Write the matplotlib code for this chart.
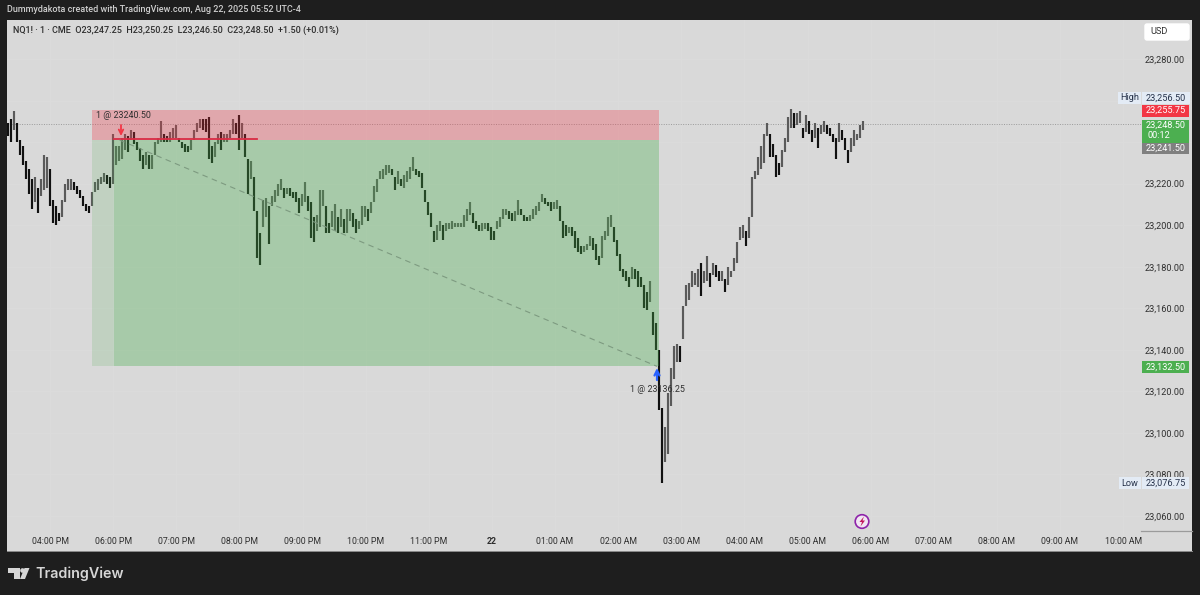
import numpy as np
import matplotlib
matplotlib.use("Agg")
import matplotlib.pyplot as plt
from matplotlib.patches import Rectangle, Circle, Polygon, FancyBboxPatch

plt.rcParams['font.family'] = ['Roboto', 'DejaVu Sans']

# high / low per bar (merged to about 3 minute bars)
highs = [
    # afternoon up to the 6pm open
    23249, 23251, 23255, 23249, 23241, 23238, 23231, 23227, 23222, 23223, 23218, 23222,
    23234, 23233, 23227, 23212, 23209, 23206, 23212, 23220, 23222, 23222, 23221, 23219,
    23217, 23214, 23210, 23209, 23216, 23221, 23222, 23223, 23225, 23224, 23223, 23244,
    # 6pm - 8:30pm
    23238, 23238, 23242, 23244, 23243, 23246, 23245, 23240, 23237, 23234, 23235, 23234, 23234,
    23240, 23242, 23250, 23244, 23243, 23245, 23247, 23248, 23242, 23240, 23239, 23238, 23241,
    23246, 23249, 23251, 23251, 23251, 23252, 23238, 23240, 23244, 23245, 23244, 23244, 23246,
    23251, 23249, 23253, 23249, 23244, 23232, 23231, 23223, 23207, 23196, 23212, 23213, 23209,
    # 8:30pm - 11:30pm
    23214, 23217, 23220, 23222, 23218, 23218, 23218, 23216, 23216, 23213, 23215, 23221, 23214,
    23211, 23204, 23205, 23217, 23217, 23209, 23201, 23207, 23210, 23204, 23208, 23203, 23208,
    23208, 23206, 23203, 23202, 23209, 23209, 23208, 23211, 23219, 23222, 23226, 23227, 23229,
    23229, 23227, 23223, 23226, 23222, 23224, 23226, 23228, 23233, 23227, 23226, 23225, 23217,
    23211, 23206,
    # 11:30pm - 1am
    23197, 23200, 23202, 23200, 23201, 23201, 23202, 23201, 23201, 23201, 23205, 23208, 23211,
    23206, 23202, 23200, 23201, 23201, 23201, 23199, 23197, 23202, 23204, 23208, 23208, 23207,
    23206, 23207, 23212, 23208, 23205, 23204, 23205,
    # 1am - 2:40am
    23208, 23209, 23211, 23215, 23213, 23211, 23211, 23211, 23212, 23209, 23202, 23200, 23199,
    23199, 23197, 23194, 23190, 23190, 23191, 23195, 23194, 23191, 23185, 23195, 23197, 23204,
    23205, 23199, 23193, 23186, 23179, 23178, 23175, 23180, 23179, 23178, 23175, 23171, 23168,
    23173, 23158, 23153, 23140,
    # flush and recovery
    23112, 23103, 23119, 23131, 23142, 23143, 23142, 23161, 23171, 23172, 23178, 23177, 23179,
    23182, 23178, 23185, 23177, 23182, 23181, 23178, 23178, 23174, 23180, 23178, 23184, 23192,
    23199, 23200, 23197, 23204, 23223, 23226, 23233, 23238, 23244, 23249, 23244, 23239, 23234,
    23230, 23236, 23242, 23252, 23256, 23254, 23254, 23255, 23247, 23253, 23250, 23246, 23249,
    23247, 23248, 23250, 23248, 23247, 23244, 23242, 23249, 23246, 23242, 23236, 23242, 23246,
    23244, 23248, 23250,
]
lows = [
    23243, 23240, 23246, 23240, 23234, 23229, 23222, 23215, 23208, 23211, 23206, 23214,
    23217, 23218, 23209, 23201, 23200, 23202, 23204, 23211, 23217, 23217, 23217, 23215,
    23213, 23209, 23207, 23206, 23209, 23216, 23217, 23220, 23221, 23220, 23218, 23220,

    23229, 23231, 23232, 23236, 23235, 23241, 23239, 23236, 23231, 23227, 23229, 23227, 23227,
    23234, 23239, 23240, 23240, 23240, 23240, 23242, 23242, 23240, 23237, 23235, 23235, 23236,
    23241, 23245, 23247, 23246, 23245, 23232, 23230, 23233, 23239, 23236, 23240, 23240, 23242,
    23244, 23244, 23236, 23242, 23233, 23215, 23222, 23207, 23184, 23181, 23199, 23204, 23191,

    23209, 23211, 23214, 23217, 23213, 23215, 23214, 23213, 23211, 23206, 23209, 23211, 23207,
    23194, 23192, 23197, 23199, 23209, 23196, 23196, 23199, 23197, 23196, 23199, 23196, 23196,
    23202, 23199, 23196, 23198, 23200, 23204, 23202, 23206, 23211, 23216, 23222, 23222, 23224,
    23225, 23224, 23217, 23220, 23219, 23218, 23221, 23222, 23226, 23224, 23223, 23218, 23211,
    23205, 23199,

    23192, 23193, 23197, 23193, 23197, 23198, 23198, 23199, 23199, 23199, 23199, 23202, 23205,
    23201, 23198, 23197, 23197, 23198, 23197, 23193, 23193, 23198, 23199, 23203, 23205, 23203,
    23202, 23202, 23205, 23205, 23202, 23202, 23202,

    23203, 23205, 23207, 23211, 23210, 23209, 23207, 23208, 23208, 23202, 23194, 23195, 23196,
    23195, 23189, 23187, 23186, 23187, 23188, 23190, 23188, 23183, 23181, 23184, 23193, 23195,
    23199, 23192, 23185, 23178, 23175, 23173, 23170, 23174, 23174, 23170, 23170, 23160, 23159,
    23163, 23147, 23140, 23111,

    23076, 23086, 23090, 23113, 23126, 23134, 23134, 23145, 23161, 23164, 23170, 23171, 23170,
    23166, 23172, 23173, 23170, 23176, 23175, 23173, 23173, 23168, 23171, 23175, 23178, 23182,
    23193, 23194, 23190, 23194, 23204, 23222, 23224, 23227, 23230, 23243, 23233, 23233, 23223,
    23224, 23228, 23235, 23240, 23247, 23247, 23248, 23249, 23242, 23245, 23244, 23240, 23242,
    23237, 23244, 23245, 23244, 23243, 23240, 23232, 23240, 23241, 23236, 23230, 23235, 23238,
    23241, 23242, 23246,
]

tick_bars = [41, 101, 161, 221, 281, 341, 401, 461, 521, 581, 641, 701, 761, 821, 881, 941, 1001, 1061]
tick_labels = ['04:00 PM', '06:00 PM', '07:00 PM', '08:00 PM', '09:00 PM', '10:00 PM', '11:00 PM', '22',
               '01:00 AM', '02:00 AM', '03:00 AM', '04:00 AM', '05:00 AM', '06:00 AM', '07:00 AM',
               '08:00 AM', '09:00 AM', '10:00 AM']
price_ticks = [23060, 23080, 23100, 23120, 23140, 23160, 23180, 23200, 23220, 23240, 23260, 23280]
hidden_ticks = [23240, 23260]  # sit behind the price badges in the reference

# the short position
pos_start, pos_entry_bar, pos_exit_bar = 81, 107, 620
pos_open_bar = 102
stop_price, entry_price, target_price = 23255.5, 23241, 23132
avg_price = 23241.5
avg_line_end = 238
last_close = 23248.5

highs = np.array(highs, dtype=float)
lows = np.array(lows, dtype=float)
bars = 0.95 + np.arange(len(highs)) * 2.852

BG = '#1e1e1e'
PANEL = '#d9d9d9'
TXT = '#2f2f2f'

fig = plt.figure(figsize=(12, 5.95), dpi=100, facecolor=BG)
W, H = 1200.0, 595.0
ax = fig.add_axes([7 / W, 1 - 551 / H, (1192 - 7) / W, (551 - 20) / H], facecolor=PANEL)
ax.set_xlim(0, 1126.5)
ax.set_ylim(23043.1, 23298.8)
for s in ax.spines.values():
    s.set_visible(False)

ax.set_xticks(tick_bars, tick_labels)
ax.yaxis.tick_right()
ax.set_yticks(price_ticks, ['' if p in hidden_ticks else f'{p:,.2f}' for p in price_ticks])
ax.tick_params(axis='x', length=0, pad=-10, labelsize=6.3, labelcolor=TXT)
ax.tick_params(axis='y', length=0, pad=-5, labelsize=6.6, labelcolor=TXT)
for lab in ax.get_yticklabels():
    lab.set_ha('right')
ax.get_xticklabels()[tick_labels.index('22')].set_fontweight('bold')
ax.grid(True, color='#dbdbdb', lw=0.8)
ax.set_axisbelow(True)

# last price line
ax.plot([0, 1079], [last_close, last_close], color='#9a9a9a', lw=0.7, ls=(0, (1, 1.5)), zorder=1)

# bars, grey when going up and black when going down
mids = (highs + lows) / 2
colors = ['#5a5a5a' if i > 0 and mids[i] >= mids[i - 1] else '#111111' for i in range(len(mids))]
ax.vlines(bars, lows, highs, colors=colors, lw=1.55, zorder=2)

# position box sits over the bars, they show through it
ax.add_patch(Rectangle((pos_start, entry_price), pos_exit_bar - pos_start, stop_price - entry_price,
                       fc='#f23645', alpha=0.30, lw=0, zorder=3))
ax.add_patch(Rectangle((pos_start, target_price), pos_open_bar - pos_start, entry_price - target_price,
                       fc='#4caf50', alpha=0.17, lw=0, zorder=3))
ax.add_patch(Rectangle((pos_open_bar, target_price), pos_exit_bar - pos_open_bar, entry_price - target_price,
                       fc='#4caf50', alpha=0.35, lw=0, zorder=3))
ax.plot([pos_open_bar, avg_line_end], [avg_price, avg_price], color='#d92c44', lw=1.3, zorder=4)
ax.plot([pos_entry_bar, pos_exit_bar - 2], [entry_price, target_price], color='#7d9a80', lw=0.8,
        ls=(0, (5, 4)), zorder=4)

# overlay in pixels for the labels and furniture around the chart
ov = fig.add_axes([0, 0, 1, 1], facecolor='none')
ov.set_xlim(0, W)
ov.set_ylim(H, 0)
ov.axis('off')

ov.text(7, 10, 'Dummydakota created with TradingView.com, Aug 22, 2025 05:52 UTC-4', color='#cfcfcf',
        fontsize=6.5, va='center', ha='left', fontweight='medium')
ov.text(13, 30.5, 'NQ1! · 1 · CME  O23,247.25  H23,250.25  L23,246.50  C23,248.50  +1.50 (+0.01%)', color=TXT,
        fontsize=6.5, va='center', ha='left', fontweight='medium')

ov.plot([1141, 1192], [531, 531], color='#9b9b9b', lw=0.9)
ov.plot([7, 1192], [550.5, 550.5], color='#8c8c8c', lw=0.7)

ov.add_patch(FancyBboxPatch((1145, 24), 44, 16, boxstyle='round,pad=0,rounding_size=2', fc='white', ec='white', lw=1))
ov.text(1150, 32, 'USD', fontsize=6.6, color=TXT, va='center')


def badge(x0, x1, y0, y1, color):
    ov.add_patch(Rectangle((x0, y0), x1 - x0, y1 - y0, fc=color, lw=0))


def value(y, s, color='white', x=1186, ha='right', **kw):
    ov.text(x, y, s, fontsize=6.6, color=color, va='center', ha=ha, **kw)


badge(1118, 1141, 92, 104, '#e3ebf5')
badge(1142, 1190, 92, 104, '#e3ebf5')
value(98, 'High', '#26324a', x=1129.5, ha='center')
value(98, '23,256.50', '#26324a')
badge(1142, 1189, 105, 117, '#f23645')
value(110.5, '23,255.75')
badge(1142, 1189, 120, 143, '#4caf50')
value(125, '23,248.50')
value(135, '00:12', x=1147, ha='left')
badge(1142, 1189, 143, 154, '#808080')
value(148, '23,241.50')
badge(1142, 1189, 361, 373, '#4caf50')
value(367, '23,132.50')
badge(1119, 1141, 477, 489, '#e3ebf5')
badge(1142, 1189, 477, 489, '#e3ebf5')
value(483, 'Low', '#26324a', x=1130, ha='center')
value(483, '23,076.75', '#26324a')

# trade markers
ov.text(96, 115, '1 @ 23240.50', fontsize=6.4, color=TXT, va='center', ha='left')
ov.text(657, 389.5, '1 @ 23136.25', fontsize=6.4, color=TXT, va='center', ha='center')
ov.annotate('', xy=(121, 136), xytext=(121, 125), arrowprops=dict(arrowstyle='->', color='#f23645', lw=1.3,
                                                                   shrinkA=0, shrinkB=0, mutation_scale=8))
ov.annotate('', xy=(657, 368), xytext=(657, 380), arrowprops=dict(arrowstyle='->', color='#2962ff', lw=1.6,
                                                                   shrinkA=0, shrinkB=0, mutation_scale=9))

# little lightning badge
ov.add_patch(Circle((862, 521.5), 6.8, fc='#f1e6f3', ec='#8e24aa', lw=1.2))
ov.add_patch(Polygon([(864, 516.5), (859.5, 522), (862, 522), (860.5, 526.5), (865, 520.5), (862.5, 520.5)],
                     fc='#c2185b', lw=0))

# TradingView logo
logo = '#d6d6d6'
ov.add_patch(Polygon([(8, 568), (19.5, 568), (19.5, 579), (13.5, 579), (13.5, 573), (8, 573)], fc=logo, lw=0))
ov.add_patch(Circle((22.5, 570.5), 2.3, fc=logo, lw=0))
ov.add_patch(Polygon([(24.5, 568), (29.5, 568), (25, 579), (20, 579)], fc=logo, lw=0))
ov.text(35.5, 573.5, 'TradingView', fontsize=10.3, color=logo, va='center', ha='left', family=['Inter', 'DejaVu Sans'],
        fontweight='semibold')

fig.savefig('out.png', dpi=100, facecolor=BG)
